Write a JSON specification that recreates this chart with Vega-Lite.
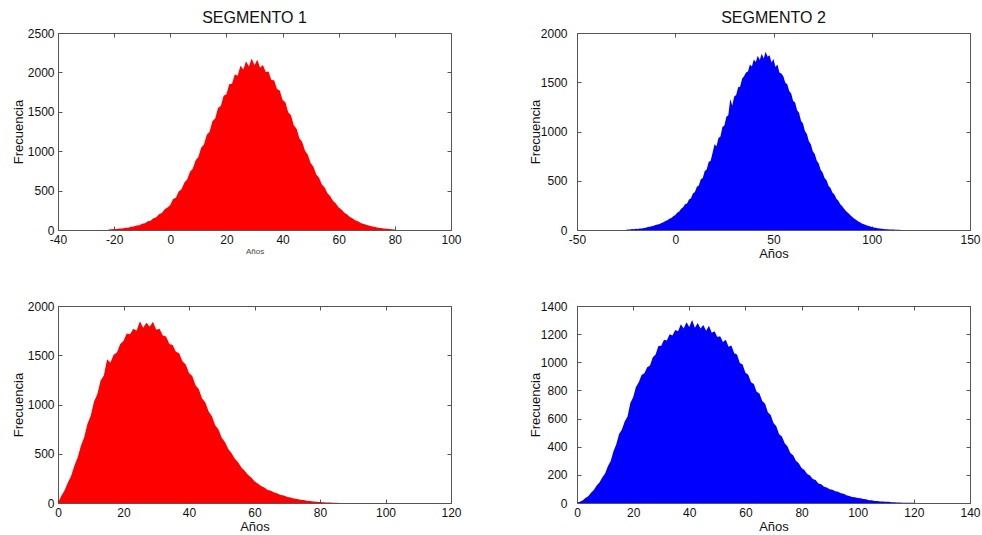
{
  "$schema": "https://vega.github.io/schema/vega-lite/v6.json",
  "padding": {"left": 11, "top": 9, "right": 0, "bottom": 0},
  "background": "white",
  "bounds": "flush",
  "columns": 2,
  "spacing": {"row": 76, "column": 126},
  "datasets": {
    "s1": [
      {"x":-22,"y":5},{"x":-21,"y":8},{"x":-20,"y":12},{"x":-19,"y":13},{"x":-18,"y":19},{"x":-17,"y":20},{"x":-16,"y":27},{"x":-15,"y":29},{"x":-14,"y":40},{"x":-13,"y":43},{"x":-12,"y":58},{"x":-11,"y":61},{"x":-10,"y":80},{"x":-9,"y":86},{"x":-8,"y":112},{"x":-7,"y":118},{"x":-6,"y":150},{"x":-5,"y":161},{"x":-4,"y":201},{"x":-3,"y":215},{"x":-2,"y":262},{"x":-1,"y":284},{"x":0,"y":318},{"x":1,"y":392},{"x":2,"y":410},{"x":3,"y":489},{"x":4,"y":518},{"x":5,"y":601},{"x":6,"y":640},{"x":7,"y":735},{"x":8,"y":776},{"x":9,"y":881},{"x":10,"y":925},{"x":11,"y":1045},{"x":12,"y":1085},{"x":13,"y":1210},{"x":14,"y":1248},{"x":15,"y":1380},{"x":16,"y":1415},{"x":17,"y":1548},{"x":18,"y":1575},{"x":19,"y":1705},{"x":20,"y":1722},{"x":21,"y":1850},{"x":22,"y":1856},{"x":23,"y":1975},{"x":24,"y":1958},{"x":25,"y":2085},{"x":26,"y":2038},{"x":27,"y":2140},{"x":28,"y":2075},{"x":29,"y":2175},{"x":30,"y":2090},{"x":31,"y":2160},{"x":32,"y":2060},{"x":33,"y":2095},{"x":34,"y":2005},{"x":35,"y":2010},{"x":36,"y":1905},{"x":37,"y":1900},{"x":38,"y":1790},{"x":39,"y":1770},{"x":40,"y":1650},{"x":41,"y":1620},{"x":42,"y":1495},{"x":43,"y":1455},{"x":44,"y":1330},{"x":45,"y":1285},{"x":46,"y":1165},{"x":47,"y":1118},{"x":48,"y":1005},{"x":49,"y":955},{"x":50,"y":850},{"x":51,"y":802},{"x":52,"y":705},{"x":53,"y":662},{"x":54,"y":578},{"x":55,"y":538},{"x":56,"y":465},{"x":57,"y":428},{"x":58,"y":368},{"x":59,"y":336},{"x":60,"y":286},{"x":61,"y":259},{"x":62,"y":218},{"x":63,"y":196},{"x":64,"y":164},{"x":65,"y":146},{"x":66,"y":121},{"x":67,"y":107},{"x":68,"y":87},{"x":69,"y":77},{"x":70,"y":62},{"x":71,"y":55},{"x":72,"y":44},{"x":73,"y":38},{"x":74,"y":30},{"x":75,"y":25},{"x":76,"y":20},{"x":77,"y":16},{"x":78,"y":12},{"x":79,"y":9},{"x":80,"y":6}
    ],
    "s2": [
      {"x":-25,"y":3},{"x":-24,"y":6},{"x":-23,"y":5},{"x":-22,"y":9},{"x":-21,"y":8},{"x":-20,"y":12},{"x":-19,"y":11},{"x":-18,"y":16},{"x":-17,"y":15},{"x":-16,"y":21},{"x":-15,"y":24},{"x":-14,"y":30},{"x":-13,"y":33},{"x":-12,"y":38},{"x":-11,"y":42},{"x":-10,"y":50},{"x":-9,"y":55},{"x":-8,"y":61},{"x":-7,"y":72},{"x":-6,"y":78},{"x":-5,"y":91},{"x":-4,"y":98},{"x":-3,"y":115},{"x":-2,"y":122},{"x":-1,"y":140},{"x":0,"y":152},{"x":1,"y":175},{"x":2,"y":188},{"x":3,"y":215},{"x":4,"y":230},{"x":5,"y":262},{"x":6,"y":268},{"x":7,"y":310},{"x":8,"y":322},{"x":9,"y":370},{"x":10,"y":385},{"x":11,"y":440},{"x":12,"y":452},{"x":13,"y":515},{"x":14,"y":528},{"x":15,"y":600},{"x":16,"y":615},{"x":17,"y":690},{"x":18,"y":702},{"x":19,"y":785},{"x":20,"y":870},{"x":21,"y":850},{"x":22,"y":935},{"x":23,"y":950},{"x":24,"y":1045},{"x":25,"y":1060},{"x":26,"y":1150},{"x":27,"y":1165},{"x":28,"y":1330},{"x":29,"y":1265},{"x":30,"y":1355},{"x":31,"y":1370},{"x":32,"y":1450},{"x":33,"y":1455},{"x":34,"y":1535},{"x":35,"y":1560},{"x":36,"y":1600},{"x":37,"y":1610},{"x":38,"y":1680},{"x":39,"y":1660},{"x":40,"y":1730},{"x":41,"y":1705},{"x":42,"y":1770},{"x":43,"y":1725},{"x":44,"y":1790},{"x":45,"y":1740},{"x":46,"y":1810},{"x":47,"y":1760},{"x":48,"y":1775},{"x":49,"y":1700},{"x":50,"y":1735},{"x":51,"y":1655},{"x":52,"y":1680},{"x":53,"y":1600},{"x":54,"y":1590},{"x":55,"y":1560},{"x":56,"y":1495},{"x":57,"y":1480},{"x":58,"y":1410},{"x":59,"y":1385},{"x":60,"y":1310},{"x":61,"y":1295},{"x":62,"y":1215},{"x":63,"y":1190},{"x":64,"y":1110},{"x":65,"y":1080},{"x":66,"y":1005},{"x":67,"y":975},{"x":68,"y":900},{"x":69,"y":870},{"x":70,"y":800},{"x":71,"y":772},{"x":72,"y":705},{"x":73,"y":676},{"x":74,"y":612},{"x":75,"y":585},{"x":76,"y":528},{"x":77,"y":505},{"x":78,"y":450},{"x":79,"y":426},{"x":80,"y":380},{"x":81,"y":360},{"x":82,"y":316},{"x":83,"y":296},{"x":84,"y":262},{"x":85,"y":240},{"x":86,"y":214},{"x":87,"y":190},{"x":88,"y":172},{"x":89,"y":152},{"x":90,"y":135},{"x":91,"y":118},{"x":92,"y":104},{"x":93,"y":90},{"x":94,"y":78},{"x":95,"y":67},{"x":96,"y":58},{"x":97,"y":50},{"x":98,"y":43},{"x":99,"y":37},{"x":100,"y":31},{"x":101,"y":26},{"x":102,"y":22},{"x":103,"y":18},{"x":104,"y":15},{"x":105,"y":12},{"x":106,"y":10},{"x":107,"y":8},{"x":108,"y":7},{"x":109,"y":6},{"x":110,"y":5},{"x":111,"y":4},{"x":112,"y":3},{"x":113,"y":2},{"x":114,"y":2},{"x":115,"y":1}
    ],
    "s3": [
      {"x":0,"y":5},{"x":1,"y":72},{"x":2,"y":128},{"x":3,"y":205},{"x":4,"y":275},{"x":5,"y":378},{"x":6,"y":462},{"x":7,"y":582},{"x":8,"y":668},{"x":9,"y":805},{"x":10,"y":885},{"x":11,"y":1030},{"x":12,"y":1105},{"x":13,"y":1240},{"x":14,"y":1295},{"x":15,"y":1460},{"x":16,"y":1425},{"x":17,"y":1505},{"x":18,"y":1528},{"x":19,"y":1615},{"x":20,"y":1645},{"x":21,"y":1720},{"x":22,"y":1712},{"x":23,"y":1770},{"x":24,"y":1750},{"x":25,"y":1845},{"x":26,"y":1780},{"x":27,"y":1830},{"x":28,"y":1790},{"x":29,"y":1840},{"x":30,"y":1760},{"x":31,"y":1770},{"x":32,"y":1700},{"x":33,"y":1690},{"x":34,"y":1615},{"x":35,"y":1605},{"x":36,"y":1535},{"x":37,"y":1520},{"x":38,"y":1440},{"x":39,"y":1405},{"x":40,"y":1320},{"x":41,"y":1290},{"x":42,"y":1195},{"x":43,"y":1155},{"x":44,"y":1060},{"x":45,"y":1020},{"x":46,"y":930},{"x":47,"y":880},{"x":48,"y":790},{"x":49,"y":745},{"x":50,"y":662},{"x":51,"y":618},{"x":52,"y":548},{"x":53,"y":505},{"x":54,"y":450},{"x":55,"y":414},{"x":56,"y":360},{"x":57,"y":328},{"x":58,"y":286},{"x":59,"y":258},{"x":60,"y":222},{"x":61,"y":198},{"x":62,"y":172},{"x":63,"y":157},{"x":64,"y":133},{"x":65,"y":124},{"x":66,"y":106},{"x":67,"y":97},{"x":68,"y":82},{"x":69,"y":75},{"x":70,"y":61},{"x":71,"y":56},{"x":72,"y":46},{"x":73,"y":41},{"x":74,"y":33},{"x":75,"y":30},{"x":76,"y":23},{"x":77,"y":21},{"x":78,"y":15},{"x":79,"y":13},{"x":80,"y":9},{"x":81,"y":8},{"x":82,"y":5},{"x":83,"y":5},{"x":84,"y":3},{"x":85,"y":2},{"x":86,"y":1}
    ],
    "s4": [
      {"x":0,"y":2},{"x":1,"y":9},{"x":2,"y":17},{"x":3,"y":35},{"x":4,"y":48},{"x":5,"y":73},{"x":6,"y":92},{"x":7,"y":124},{"x":8,"y":145},{"x":9,"y":182},{"x":10,"y":210},{"x":11,"y":262},{"x":12,"y":298},{"x":13,"y":368},{"x":14,"y":418},{"x":15,"y":490},{"x":16,"y":522},{"x":17,"y":580},{"x":18,"y":615},{"x":19,"y":710},{"x":20,"y":752},{"x":21,"y":825},{"x":22,"y":858},{"x":23,"y":910},{"x":24,"y":922},{"x":25,"y":965},{"x":26,"y":978},{"x":27,"y":1035},{"x":28,"y":1055},{"x":29,"y":1115},{"x":30,"y":1118},{"x":31,"y":1160},{"x":32,"y":1155},{"x":33,"y":1200},{"x":34,"y":1190},{"x":35,"y":1230},{"x":36,"y":1220},{"x":37,"y":1270},{"x":38,"y":1240},{"x":39,"y":1285},{"x":40,"y":1250},{"x":41,"y":1300},{"x":42,"y":1245},{"x":43,"y":1280},{"x":44,"y":1240},{"x":45,"y":1265},{"x":46,"y":1225},{"x":47,"y":1260},{"x":48,"y":1210},{"x":49,"y":1220},{"x":50,"y":1180},{"x":51,"y":1185},{"x":52,"y":1145},{"x":53,"y":1160},{"x":54,"y":1110},{"x":55,"y":1120},{"x":56,"y":1065},{"x":57,"y":1055},{"x":58,"y":995},{"x":59,"y":985},{"x":60,"y":925},{"x":61,"y":912},{"x":62,"y":858},{"x":63,"y":845},{"x":64,"y":790},{"x":65,"y":778},{"x":66,"y":725},{"x":67,"y":705},{"x":68,"y":645},{"x":69,"y":625},{"x":70,"y":568},{"x":71,"y":545},{"x":72,"y":488},{"x":73,"y":472},{"x":74,"y":424},{"x":75,"y":402},{"x":76,"y":355},{"x":77,"y":340},{"x":78,"y":300},{"x":79,"y":282},{"x":80,"y":248},{"x":81,"y":234},{"x":82,"y":206},{"x":83,"y":196},{"x":84,"y":171},{"x":85,"y":164},{"x":86,"y":139},{"x":87,"y":133},{"x":88,"y":115},{"x":89,"y":111},{"x":90,"y":97},{"x":91,"y":94},{"x":92,"y":83},{"x":93,"y":80},{"x":94,"y":70},{"x":95,"y":66},{"x":96,"y":55},{"x":97,"y":50},{"x":98,"y":42},{"x":99,"y":40},{"x":100,"y":35},{"x":101,"y":34},{"x":102,"y":28},{"x":103,"y":26},{"x":104,"y":20},{"x":105,"y":20},{"x":106,"y":15},{"x":107,"y":15},{"x":108,"y":11},{"x":109,"y":11},{"x":110,"y":8},{"x":111,"y":8},{"x":112,"y":5},{"x":113,"y":5},{"x":114,"y":4},{"x":115,"y":3},{"x":116,"y":2},{"x":117,"y":2},{"x":118,"y":1},{"x":119,"y":1},{"x":120,"y":1}
    ]
  },
  "concat": [
    {
      "title": {"text": "SEGMENTO 1"},
      "width": 393, "height": 197,
      "data": {"name": "s1"},
      "layer": [
        {"mark": {"type": "area", "interpolate": "linear", "color": "#ff0000"},
         "encoding": {
           "x": {"field": "x", "type": "quantitative", "scale": {"domain": [-40, 100], "nice": false, "zero": false},
                 "axis": {"orient": "bottom", "values": [-40,-20,0,20,40,60,80,100], "title": "Años", "titleFontSize": 8, "titleColor": "#444"}},
           "y": {"field": "y", "type": "quantitative", "scale": {"domain": [0, 2500], "nice": false},
                 "axis": {"orient": "left", "values": [0,500,1000,1500,2000,2500], "title": "Frecuencia"}}
         }},
        {"mark": {"type": "area", "opacity": 0},
         "encoding": {
           "x": {"field": "x", "type": "quantitative", "scale": {"domain": [-40, 100], "nice": false, "zero": false},
                 "axis": {"orient": "top", "values": [-40,-20,0,20,40,60,80,100], "labels": false, "title": null}},
           "y": {"field": "y", "type": "quantitative", "scale": {"domain": [0, 2500], "nice": false},
                 "axis": {"orient": "right", "values": [0,500,1000,1500,2000,2500], "labels": false, "title": null}}
         }}
      ],
      "resolve": {"axis": {"x": "independent", "y": "independent"}}
    },
    {
      "title": {"text": "SEGMENTO 2"},
      "width": 393, "height": 197,
      "data": {"name": "s2"},
      "layer": [
        {"mark": {"type": "area", "interpolate": "linear", "color": "#0000ff"},
         "encoding": {
           "x": {"field": "x", "type": "quantitative", "scale": {"domain": [-50, 150], "nice": false, "zero": false},
                 "axis": {"orient": "bottom", "values": [-50,0,50,100,150], "title": "Años"}},
           "y": {"field": "y", "type": "quantitative", "scale": {"domain": [0, 2000], "nice": false},
                 "axis": {"orient": "left", "values": [0,500,1000,1500,2000], "title": "Frecuencia", "labelPadding": 14, "titlePadding": -2}}
         }},
        {"mark": {"type": "area", "opacity": 0},
         "encoding": {
           "x": {"field": "x", "type": "quantitative", "scale": {"domain": [-50, 150], "nice": false, "zero": false},
                 "axis": {"orient": "top", "values": [-50,0,50,100,150], "labels": false, "title": null}},
           "y": {"field": "y", "type": "quantitative", "scale": {"domain": [0, 2000], "nice": false},
                 "axis": {"orient": "right", "values": [0,500,1000,1500,2000], "labels": false, "title": null}}
         }}
      ],
      "resolve": {"axis": {"x": "independent", "y": "independent"}}
    },
    {
      "width": 393, "height": 197,
      "data": {"name": "s3"},
      "layer": [
        {"mark": {"type": "area", "interpolate": "linear", "color": "#ff0000"},
         "encoding": {
           "x": {"field": "x", "type": "quantitative", "scale": {"domain": [0, 120], "nice": false, "zero": false},
                 "axis": {"orient": "bottom", "values": [0,20,40,60,80,100,120], "title": "Años"}},
           "y": {"field": "y", "type": "quantitative", "scale": {"domain": [0, 2000], "nice": false},
                 "axis": {"orient": "left", "values": [0,500,1000,1500,2000], "title": "Frecuencia"}}
         }},
        {"mark": {"type": "area", "opacity": 0},
         "encoding": {
           "x": {"field": "x", "type": "quantitative", "scale": {"domain": [0, 120], "nice": false, "zero": false},
                 "axis": {"orient": "top", "values": [0,20,40,60,80,100,120], "labels": false, "title": null}},
           "y": {"field": "y", "type": "quantitative", "scale": {"domain": [0, 2000], "nice": false},
                 "axis": {"orient": "right", "values": [0,500,1000,1500,2000], "labels": false, "title": null}}
         }}
      ],
      "resolve": {"axis": {"x": "independent", "y": "independent"}}
    },
    {
      "width": 393, "height": 197,
      "data": {"name": "s4"},
      "layer": [
        {"mark": {"type": "area", "interpolate": "linear", "color": "#0000ff"},
         "encoding": {
           "x": {"field": "x", "type": "quantitative", "scale": {"domain": [0, 140], "nice": false, "zero": false},
                 "axis": {"orient": "bottom", "values": [0,20,40,60,80,100,120,140], "title": "Años"}},
           "y": {"field": "y", "type": "quantitative", "scale": {"domain": [0, 1400], "nice": false},
                 "axis": {"orient": "left", "values": [0,200,400,600,800,1000,1200,1400], "title": "Frecuencia", "labelPadding": 14, "titlePadding": -2}}
         }},
        {"mark": {"type": "area", "opacity": 0},
         "encoding": {
           "x": {"field": "x", "type": "quantitative", "scale": {"domain": [0, 140], "nice": false, "zero": false},
                 "axis": {"orient": "top", "values": [0,20,40,60,80,100,120,140], "labels": false, "title": null}},
           "y": {"field": "y", "type": "quantitative", "scale": {"domain": [0, 1400], "nice": false},
                 "axis": {"orient": "right", "values": [0,200,400,600,800,1000,1200,1400], "labels": false, "title": null}}
         }}
      ],
      "resolve": {"axis": {"x": "independent", "y": "independent"}}
    }
  ],
  "config": {
    "font": "Liberation Sans",
    "view": {"stroke": "#555555", "strokeWidth": 1},
    "axis": {
      "grid": false, "domain": false, "ticks": true, "tickSize": -4, "tickColor": "#555555",
      "labelFont": "Liberation Sans", "labelFontSize": 12, "labelColor": "#111111", "labelPadding": 8,
      "labelFlush": false, "labelOverlap": false, "labelExpr": "'' + datum.value",
      "titleFont": "Liberation Sans", "titleFontSize": 13, "titleFontWeight": "normal", "titleColor": "#111111", "titlePadding": 2
    },
    "title": {"font": "Liberation Sans", "fontSize": 16, "fontWeight": "normal", "color": "#111111", "frame": "group", "anchor": "middle", "offset": 1}
  }
}
